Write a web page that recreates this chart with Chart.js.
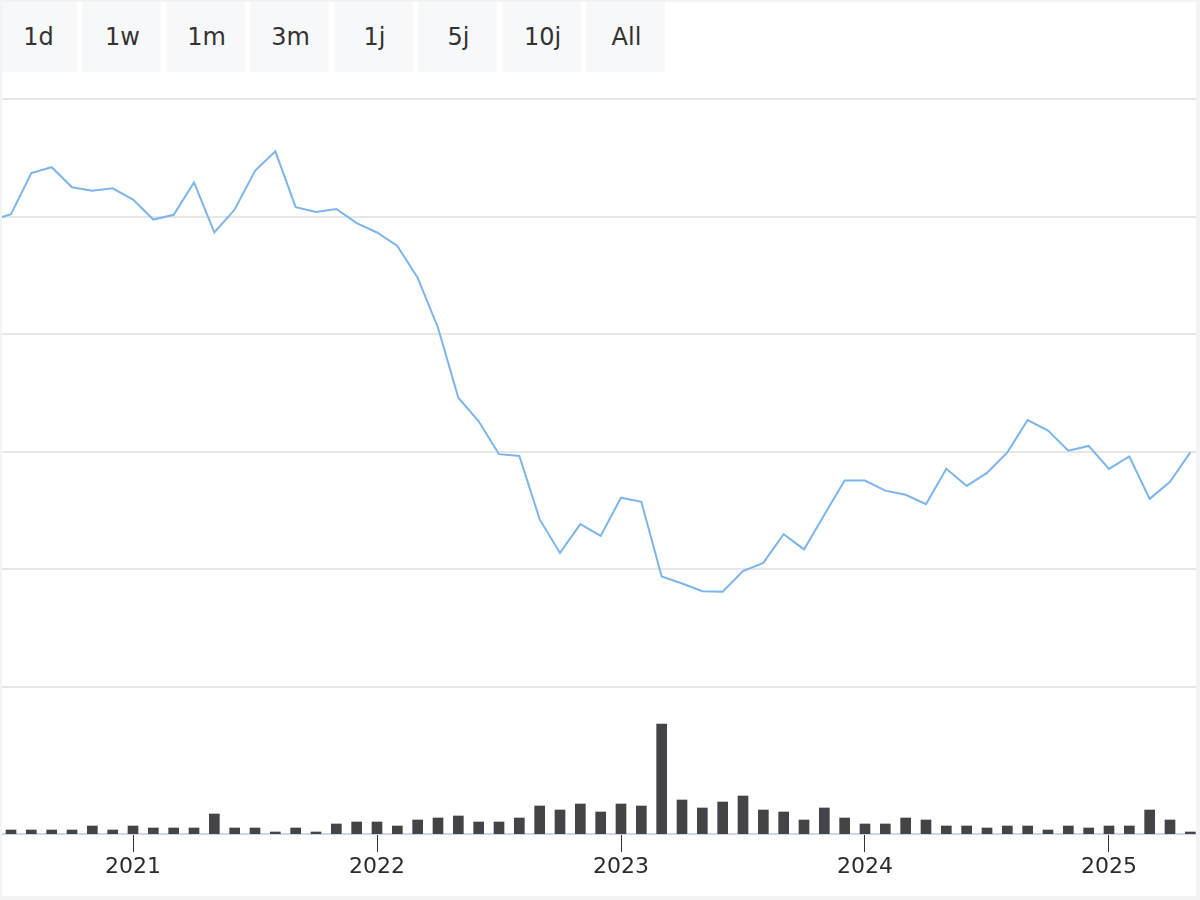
<!DOCTYPE html>
<html>
<head>
<meta charset="utf-8">
<script src="https://cdn.jsdelivr.net/npm/chart.js@4/dist/chart.umd.min.js"></script>
<style>
  body { margin:0; background:#fff; width:1200px; height:900px; overflow:hidden; position:relative; font-family:"DejaVu Sans", sans-serif; }
  .frame { position:absolute; left:0; top:0; width:1200px; height:900px; box-sizing:border-box;
           border:2px solid #f3f3f3; border-right-width:4px; border-bottom-width:4px; pointer-events:none; z-index:5; }
  .btn { position:absolute; top:0; height:72px; width:79px; background:#f7f8f9; color:#333;
         font-size:24px; line-height:74px; text-align:center; box-sizing:border-box; padding-left:2px; }
  #wrap { position:absolute; left:2px; top:80px; width:1194px; height:818px; }
</style>
</head>
<body>
<div class="frame"></div>
<div id="buttons"></div>
<div id="wrap"><canvas id="chart" width="1194" height="818"></canvas></div>
<script>
// boutons du range selector
const rangeButtons = ['1d', '1w', '1m', '3m', '1j', '5j', '10j', 'All']

// mois de depart (index 0 = janvier 2021)
const priceStart = -7   // juin 2020
const volumeStart = -6  // juillet 2020

// cours mensuel (unite arbitraire, lignes de grille tous les 20)
const price = [79.3, 80.4, 87.4, 88.4, 85.0, 84.4, 84.8, 82.9, 79.5, 80.3,
               85.8, 77.3, 81.2, 87.8, 91.1, 81.6, 80.8, 81.3, 78.9, 77.3,
               75.0, 69.6, 61.1, 49.2, 45.2, 39.6, 39.3, 28.5, 22.8, 27.7,
               25.7, 32.2, 31.5, 18.8, 17.6, 16.3, 16.2, 19.7, 21.1, 26.0,
               23.4, 29.3, 35.1, 35.1, 33.4, 32.7, 31.1, 37.1, 34.2, 36.4,
               39.9, 45.4, 43.6, 40.2, 41.0, 37.1, 39.2, 32.0, 34.9, 39.9]

// volume mensuel
const volume = [2, 2, 2, 2, 4, 2, 4, 3, 3, 3,
                10, 3, 3, 1, 3, 1, 5, 6, 6, 4,
                7, 8, 9, 6, 6, 8, 14, 12, 15, 11,
                15, 14, 55, 17, 13, 16, 19, 12, 11, 7,
                13, 8, 5, 5, 8, 7, 4, 4, 3, 4,
                4, 2, 4, 3, 4, 4, 12, 7, 1]

// axe x
const yearLabels = ['2021', '2022', '2023', '2024', '2025']
const yearTicks = [0, 12, 24, 36, 48]
const gridValues = [0, 20, 40, 60, 80, 100]

/* boutons */
const btnBox = document.getElementById('buttons')
rangeButtons.forEach((txt, i) => {
  const b = document.createElement('div')
  b.className = 'btn'
  b.style.left = (-2 + i * 84) + 'px'
  b.textContent = txt
  btnBox.appendChild(b)
})

/* chart */
const ctx = document.getElementById('chart')
new Chart(ctx, {
  data: {
    datasets: [{
      type: 'line',
      data: price.map((v, i) => ({ x: priceStart + i, y: v })),
      borderColor: '#7cb5ec',
      borderWidth: 2,
      pointRadius: 0,
      tension: 0,
      yAxisID: 'y'
    }, {
      type: 'bar',
      data: volume.map((v, i) => ({ x: volumeStart + i, y: v })),
      backgroundColor: '#434348',
      barThickness: 10,
      yAxisID: 'y2'
    }]
  },
  options: {
    responsive: false,
    animation: false,
    layout: { padding: { top: 19, left: 0, right: 0, bottom: 0 } },
    plugins: { legend: { display: false }, tooltip: { enabled: false } },
    scales: {
      x: {
        type: 'linear',
        min: -6.443,
        max: 52.279,
        offset: false,
        afterBuildTicks: s => { s.ticks = yearTicks.map(v => ({ value: v })) },
        afterFit: s => { s.height = 64 },
        ticks: {
          callback: (v, i) => yearLabels[i],
          font: { family: 'DejaVu Sans', size: 22 },
          color: '#2b2b2b',
          padding: 2,
          maxRotation: 0,
          autoSkip: false
        },
        grid: { offset: false, drawOnChartArea: false, tickLength: 18, tickColor: '#333', tickWidth: 1 },
        border: { color: '#ccd6eb', width: 2 }
      },
      y: {
        min: -25,
        max: 100,
        afterBuildTicks: s => { s.ticks = gridValues.map(v => ({ value: v })) },
        afterFit: s => { s.width = 0 },
        ticks: { display: false },
        grid: { color: '#e6e6e6', lineWidth: 2, drawTicks: false },
        border: { display: false }
      },
      y2: {
        display: false,
        min: 0,
        max: 367.5
      }
    }
  }
})
</script>
</body>
</html>
